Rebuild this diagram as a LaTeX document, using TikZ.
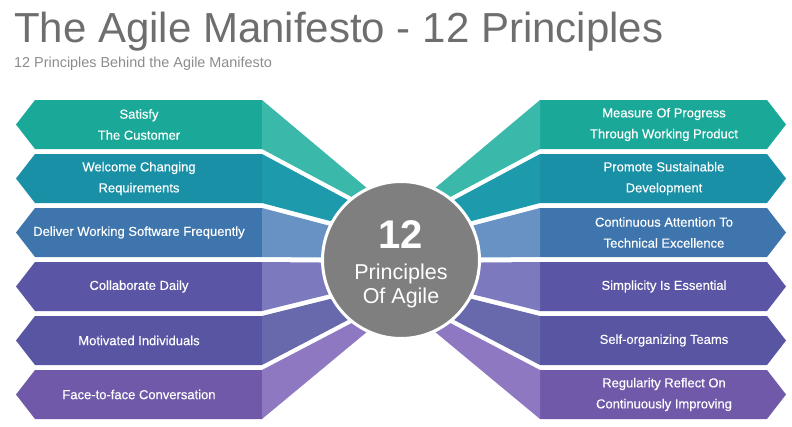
\documentclass[tikz,border=0pt]{standalone}
\usepackage{fontspec}
\setmainfont{Liberation Sans}
\newfontfamily\bandfont[FakeBold=0.35]{Liberation Sans}
\usepackage{tikz}
\usetikzlibrary{calc}

\definecolor{titlegray}{HTML}{6E6E6E}
\definecolor{subgray}{HTML}{8C8C8C}
\definecolor{hubgray}{HTML}{7F7F7F}
\definecolor{bandA}{HTML}{1AA898}
\definecolor{ribA}{HTML}{3AB8AA}
\definecolor{bandB}{HTML}{1990A6}
\definecolor{ribB}{HTML}{1E9AAD}
\definecolor{bandC}{HTML}{3E75AC}
\definecolor{ribC}{HTML}{6892C4}
\definecolor{bandD}{HTML}{5A56A5}
\definecolor{ribD}{HTML}{7C79BE}
\definecolor{bandE}{HTML}{5855A3}
\definecolor{ribE}{HTML}{6868AC}
\definecolor{bandF}{HTML}{7059A8}
\definecolor{ribF}{HTML}{8F78C2}

\begin{document}
\begin{tikzpicture}[x=1pt, y=-1pt,
  bandtext/.style={text=white, align=center, inner sep=0pt, font=\bandfont\fontsize{13}{21}\selectfont}]

\useasboundingbox (0,0) rectangle (792,426);

\coordinate (c) at (401,260);

% left arrows
\fill[bandA] (35,100) -- (16,124.5) -- (35,149) -- (262,149) -- (262,100) -- cycle;
\fill[bandB] (35,154) -- (16,178.5) -- (35,203) -- (262,203) -- (262,154) -- cycle;
\fill[bandC] (35,208) -- (16,232.5) -- (35,257) -- (262,257) -- (262,208) -- cycle;
\fill[bandD] (35,262) -- (16,286.5) -- (35,311) -- (262,311) -- (262,262) -- cycle;
\fill[bandE] (35,316) -- (16,340.5) -- (35,365) -- (262,365) -- (262,316) -- cycle;
\fill[bandF] (35,370) -- (16,394.5) -- (35,419) -- (262,419) -- (262,370) -- cycle;

% left ribbons
\fill[ribA] (262,100) -- ($(c)+(244.5:80)$) -- ($(c)+(232:80)$) -- (262,149) -- cycle;
\fill[ribB] (262,154) -- ($(c)+(228.5:80)$) -- ($(c)+(209:80)$) -- (262,203) -- cycle;
\fill[ribC] (262,208) -- ($(c)+(205.5:80)$) -- ($(c)+(181.8:80)$) -- (262,257) -- cycle;
\fill[ribD] (262,262) -- ($(c)+(178.2:80)$) -- ($(c)+(154.5:80)$) -- (262,311) -- cycle;
\fill[ribE] (262,316) -- ($(c)+(151:80)$) -- ($(c)+(131.5:80)$) -- (262,365) -- cycle;
\fill[ribF] (262,370) -- ($(c)+(128:80)$) -- ($(c)+(115.5:80)$) -- (262,419) -- cycle;

% right arrows
\fill[bandA] (540,100) -- (767,100) -- (786,124.5) -- (767,149) -- (540,149) -- cycle;
\fill[bandB] (540,154) -- (767,154) -- (786,178.5) -- (767,203) -- (540,203) -- cycle;
\fill[bandC] (540,208) -- (767,208) -- (786,232.5) -- (767,257) -- (540,257) -- cycle;
\fill[bandD] (540,262) -- (767,262) -- (786,286.5) -- (767,311) -- (540,311) -- cycle;
\fill[bandE] (540,316) -- (767,316) -- (786,340.5) -- (767,365) -- (540,365) -- cycle;
\fill[bandF] (540,370) -- (767,370) -- (786,394.5) -- (767,419) -- (540,419) -- cycle;

% right ribbons
\fill[ribA] (540,100) -- ($(c)+(-64.5:80)$) -- ($(c)+(-52:80)$) -- (540,149) -- cycle;
\fill[ribB] (540,154) -- ($(c)+(-48.5:80)$) -- ($(c)+(-29:80)$) -- (540,203) -- cycle;
\fill[ribC] (540,208) -- ($(c)+(-25.5:80)$) -- ($(c)+(-1.8:80)$) -- (540,257) -- cycle;
\fill[ribD] (540,262) -- ($(c)+(1.8:80)$) -- ($(c)+(25.5:80)$) -- (540,311) -- cycle;
\fill[ribE] (540,316) -- ($(c)+(29:80)$) -- ($(c)+(48.5:80)$) -- (540,365) -- cycle;
\fill[ribF] (540,370) -- ($(c)+(52:80)$) -- ($(c)+(64.5:80)$) -- (540,419) -- cycle;

% hub
\node[circle, fill=hubgray, draw=white, line width=3pt, minimum size=157pt, inner sep=0pt] (hub) at (c) {};
\node[text=white, font=\fontsize{40}{40}\selectfont\bfseries, anchor=base, inner sep=0pt] (hubnum) at (401,248) {12};
\node[text=white, font=\fontsize{21.5}{24}\selectfont, align=center, anchor=base, inner sep=0pt] (hubtext) at (401,303) {Principles\\Of Agile};

% titles
\node[text=titlegray, font=\fontsize{42}{42}\selectfont, anchor=base west, inner sep=0pt] (title) at (14,42) {The Agile Manifesto - 12 Principles};
\node[text=subgray, font=\fontsize{14.4}{14.4}\selectfont, anchor=base west, inner sep=0pt] (subtitle) at (14,67) {12 Principles Behind the Agile Manifesto};

% labels
\node[bandtext] (l1) at (139,124.5) {Satisfy\\The Customer};
\node[bandtext] (l2) at (139,178.5) {Welcome Changing\\Requirements};
\node[bandtext] (l3) at (139,232.5) {Deliver Working Software Frequently};
\node[bandtext] (l4) at (139,286.5) {Collaborate Daily};
\node[bandtext] (l5) at (139,340.5) {Motivated Individuals};
\node[bandtext] (l6) at (139,394.5) {Face-to-face Conversation};

\node[bandtext] (r1) at (664,124.5) {Measure Of Progress\\Through Working Product};
\node[bandtext] (r2) at (664,178.5) {Promote Sustainable\\Development};
\node[bandtext] (r3) at (664,232.5) {Continuous Attention To\\Technical Excellence};
\node[bandtext] (r4) at (664,286.5) {Simplicity Is Essential};
\node[bandtext] (r5) at (664,340.5) {Self-organizing Teams};
\node[bandtext] (r6) at (664,394.5) {Regularity Reflect On\\Continuously Improving};

\end{tikzpicture}
\end{document}
